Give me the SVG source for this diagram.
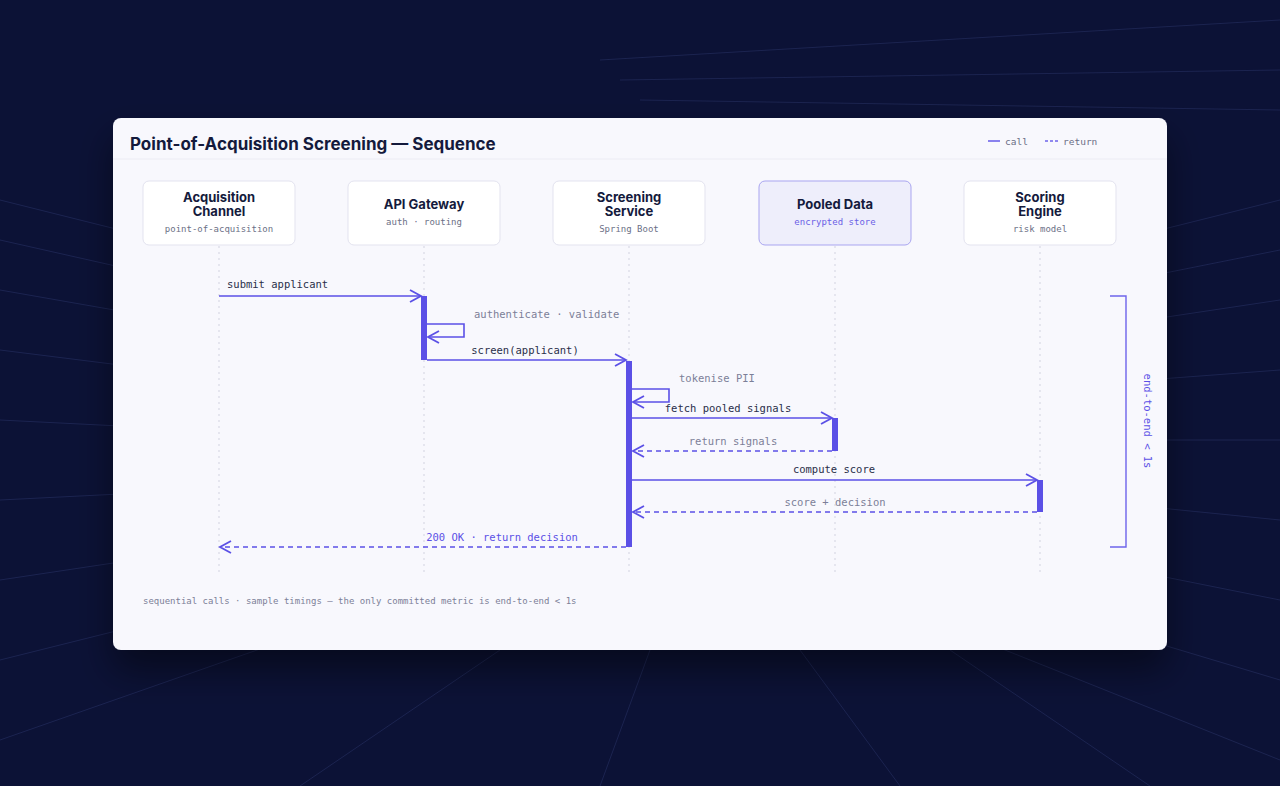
<svg xmlns="http://www.w3.org/2000/svg" width="1280" height="786" viewBox="0 0 1280 786">
<defs>
<style>
.bg-line{stroke:#1c2450;stroke-width:1;fill:none}
.box{fill:#ffffff;stroke:#e3e3ef;stroke-width:1}
.boxh{fill:#eeeefb;stroke:#a9a5f0;stroke-width:1}
.nt{font-family:Inter,"Noto Sans",sans-serif;font-weight:700;font-size:13px;fill:#141a3c;text-anchor:middle}
.ns{font-family:"DejaVu Sans Mono","Liberation Mono",monospace;font-size:9px;fill:#6b6f86;text-anchor:middle}
.life{stroke:#d2d3e0;stroke-width:1;stroke-dasharray:2 4}
.act{fill:#5b50e6}
.call{stroke:#5b50e6;stroke-width:1.6;fill:none}
.ret{stroke:#5b50e6;stroke-width:1.4;fill:none;stroke-dasharray:5 4}
.lbl{font-family:"DejaVu Sans Mono","Liberation Mono",monospace;font-size:10.5px;fill:#2a2f4a}
.lblg{font-family:"DejaVu Sans Mono","Liberation Mono",monospace;font-size:10.5px;fill:#7c7f98}
.mono{font-family:"DejaVu Sans Mono","Liberation Mono",monospace}
</style>
<marker id="ah" markerWidth="14" markerHeight="14" refX="12" refY="7" orient="auto" markerUnits="userSpaceOnUse">
<path d="M1,1 L12,7 L1,13" fill="none" stroke="#5b50e6" stroke-width="1.8"/>
</marker>
<filter id="sh" x="-10%" y="-10%" width="120%" height="130%"><feDropShadow dx="0" dy="20" stdDeviation="18" flood-color="#000" flood-opacity="0.45"/></filter>
</defs>
<rect width="1280" height="786" fill="#0c1236"/>
<g id="bg">
<path class="bg-line" d="M0,200 L400,300 M0,240 L400,330 M0,290 L400,360 M0,350 L400,400 M0,420 L400,440 M0,500 L400,480 M0,580 L400,520 M0,660 L400,560 M0,740 L400,600"/>
<path class="bg-line" d="M880,300 L1280,200 M880,330 L1280,250 M880,360 L1280,300 M880,400 L1280,370 M880,440 L1280,440 M880,480 L1280,520 M880,520 L1280,600 M880,560 L1280,680 M880,600 L1280,760"/>
<path class="bg-line" d="M600,60 L1280,20 M620,80 L1280,70 M640,100 L1280,110"/>
<path class="bg-line" d="M300,786 L500,650 M600,786 L650,650 M900,786 L800,650 M1150,786 L950,650"/>
</g>
<rect x="113" y="118" width="1054" height="532" rx="8" fill="#f8f8fd" filter="url(#sh)"/>
<line x1="113" y1="159" x2="1167" y2="159" stroke="#ececf4"/>
<text x="130" y="150" font-family="Inter,'Noto Sans',sans-serif" font-weight="700" font-size="17" fill="#141a3c">Point-of-Acquisition Screening — Sequence</text>
<g id="legend">
<line x1="988" y1="141" x2="1000" y2="141" stroke="#6e64ea" stroke-width="1.6"/>
<text x="1005" y="144.5" class="mono" font-size="9.5" fill="#6b6f86">call</text>
<line x1="1045" y1="141" x2="1058" y2="141" stroke="#6e64ea" stroke-width="1.4" stroke-dasharray="3 2"/>
<text x="1063" y="144.5" class="mono" font-size="9.5" fill="#6b6f86">return</text>
</g>
<g id="lifelines">
<line class="life" x1="219" y1="246" x2="219" y2="572"/>
<line class="life" x1="424" y1="246" x2="424" y2="572"/>
<line class="life" x1="629" y1="246" x2="629" y2="572"/>
<line class="life" x1="835" y1="246" x2="835" y2="572"/>
<line class="life" x1="1040" y1="246" x2="1040" y2="572"/>
</g>
<g id="n1"><rect class="box" x="143" y="181" width="152" height="64" rx="6"/><text class="nt" x="219" y="202">Acquisition</text><text class="nt" x="219" y="216">Channel</text><text class="ns" x="219" y="232">point-of-acquisition</text></g>
<g id="n2"><rect class="box" x="348" y="181" width="152" height="64" rx="6"/><text class="nt" x="424" y="209">API Gateway</text><text class="ns" x="424" y="225">auth · routing</text></g>
<g id="n3"><rect class="box" x="553" y="181" width="152" height="64" rx="6"/><text class="nt" x="629" y="202">Screening</text><text class="nt" x="629" y="216">Service</text><text class="ns" x="629" y="232">Spring Boot</text></g>
<g id="n4"><rect class="boxh" x="759" y="181" width="152" height="64" rx="6"/><text class="nt" x="835" y="209">Pooled Data</text><text class="ns" x="835" y="225" style="fill:#6a5fe6">encrypted store</text></g>
<g id="n5"><rect class="box" x="964" y="181" width="152" height="64" rx="6"/><text class="nt" x="1040" y="202">Scoring</text><text class="nt" x="1040" y="216">Engine</text><text class="ns" x="1040" y="232">risk model</text></g>
<g id="activations">
<rect class="act" x="421" y="296" width="6" height="64"/>
<rect class="act" x="626" y="361" width="6" height="186"/>
<rect class="act" x="832" y="418" width="6" height="33"/>
<rect class="act" x="1037" y="480" width="6" height="32"/>
</g>
<g id="connectors">
<line class="call" x1="219" y1="296" x2="421" y2="296" marker-end="url(#ah)"/>
<path class="call" d="M427,324 L464,324 L464,337 L428,337" marker-end="url(#ah)"/>
<line class="call" x1="427" y1="360" x2="626" y2="360" marker-end="url(#ah)"/>
<path class="call" d="M632,389 L669,389 L669,402 L633,402" marker-end="url(#ah)"/>
<line class="call" x1="632" y1="418" x2="832" y2="418" marker-end="url(#ah)"/>
<line class="ret" x1="832" y1="451" x2="633" y2="451" marker-end="url(#ah)"/>
<line class="call" x1="632" y1="480" x2="1037" y2="480" marker-end="url(#ah)"/>
<line class="ret" x1="1037" y1="512" x2="633" y2="512" marker-end="url(#ah)"/>
<line class="ret" x1="626" y1="547" x2="220" y2="547" marker-end="url(#ah)"/>
</g>
<g id="labels">
<text class="lbl" x="227" y="288">submit applicant</text>
<text class="lblg" x="474" y="318">authenticate · validate</text>
<text class="lbl" x="525" y="354" text-anchor="middle">screen(applicant)</text>
<text class="lblg" x="679" y="382">tokenise PII</text>
<text class="lbl" x="728" y="412" text-anchor="middle">fetch pooled signals</text>
<text class="lblg" x="733" y="445" text-anchor="middle">return signals</text>
<text class="lbl" x="834" y="473" text-anchor="middle">compute score</text>
<text class="lblg" x="835" y="506" text-anchor="middle">score + decision</text>
<text class="lbl" x="502" y="541" text-anchor="middle" style="fill:#5b50e6">200 OK · return decision</text>
</g>
<g id="bracket">
<path d="M1110,296 L1126,296 L1126,547 L1110,547" fill="none" stroke="#6e64ea" stroke-width="1.4"/>
<text transform="translate(1144,421) rotate(90)" class="mono" font-size="10.5" fill="#5b50e6" text-anchor="middle">end-to-end &lt; 1s</text>
</g>
<text x="143" y="604" class="mono" font-size="9" fill="#7c7f98">sequential calls · sample timings — the only committed metric is end-to-end &lt; 1s</text>
</svg>
